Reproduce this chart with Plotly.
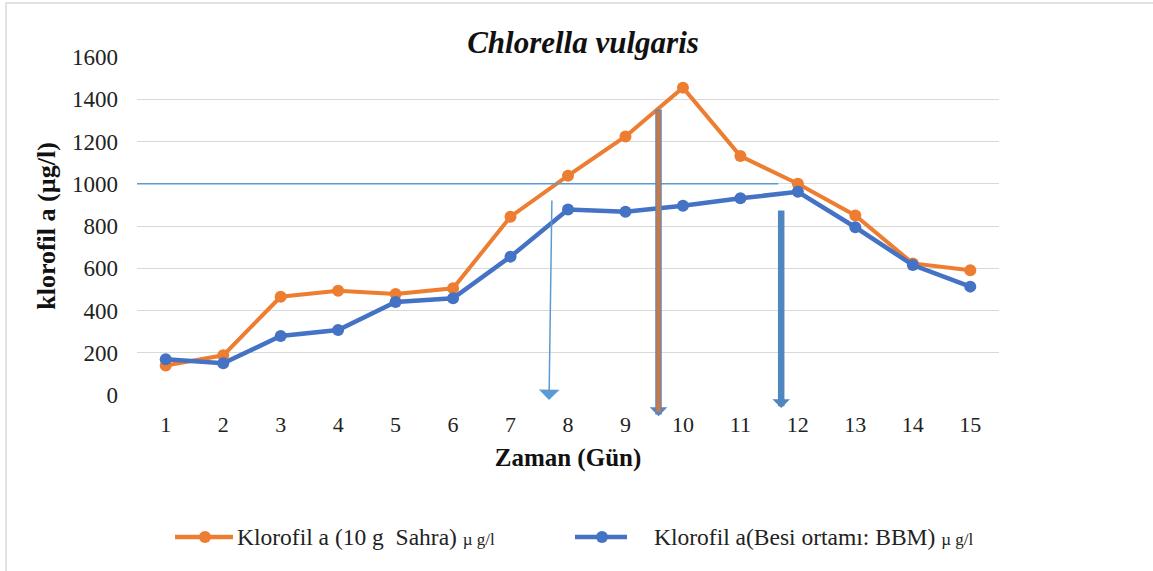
import plotly.graph_objects as go

# Kültür süresi (gün) ve klorofil a değerleri (µg/l)
gunler = list(range(1, 16))
sahra_10g = [140, 188, 465, 494, 478, 505, 844, 1038, 1224, 1455, 1131, 1000, 850, 623, 590]
bbm = [169, 150, 279, 308, 440, 458, 655, 878, 868, 896, 931, 962, 794, 615, 513]

y_ticks = [0, 200, 400, 600, 800, 1000, 1200, 1400, 1600]

ORANGE = "#ED7D31"
BLUE = "#4472C4"
LIGHT_BLUE = "#5B9BD5"
SERIF = "Liberation Serif, Times New Roman, serif"

fig = go.Figure()

fig.add_trace(go.Scatter(
    x=gunler, y=sahra_10g, mode="lines+markers",
    name="Klorofil a (10 g  Sahra) µg/l",
    line=dict(color=ORANGE, width=4),
    marker=dict(color=ORANGE, size=12),
    cliponaxis=False, showlegend=False,
))
fig.add_trace(go.Scatter(
    x=gunler, y=bbm, mode="lines+markers",
    name="Klorofil a(Besi ortamı: BBM) µg/l",
    line=dict(color=BLUE, width=4.5),
    marker=dict(color=BLUE, size=12),
    cliponaxis=False, showlegend=False,
))

# 1000 µg/l seviyesini gösteren yatay çizgi
fig.add_shape(type="line", xref="x", yref="y", x0=0.5, x1=11.66, y0=1000, y1=1000,
              line=dict(color=LIGHT_BLUE, width=1.5), layer="above")

# Dikey oklar
fig.add_annotation(x=7.67, y=-24, ax=7.72, ay=928, xref="x", yref="y", axref="x", ayref="y",
                   text="", showarrow=True, arrowhead=1, arrowsize=2.3, arrowwidth=1.5,
                   arrowcolor=LIGHT_BLUE, standoff=0)
fig.add_annotation(x=9.575, y=-100, ax=9.575, ay=1359, xref="x", yref="y", axref="x", ayref="y",
                   text="", showarrow=True, arrowhead=1, arrowsize=0.45, arrowwidth=6.5,
                   arrowcolor="#5A86BE", standoff=0)
fig.add_annotation(x=9.575, y=-80, ax=9.575, ay=1353, xref="x", yref="y", axref="x", ayref="y",
                   text="", showarrow=True, arrowhead=0, arrowwidth=4.5,
                   arrowcolor="#C27A4E", standoff=0)
fig.add_annotation(x=11.71, y=-62, ax=11.71, ay=880, xref="x", yref="y", axref="x", ayref="y",
                   text="", showarrow=True, arrowhead=1, arrowsize=0.45, arrowwidth=6.5,
                   arrowcolor="#4F86C0", standoff=0)

# Grafik çerçevesi
fig.add_shape(type="rect", xref="paper", yref="paper", x0=-0.152, x1=1.19, y0=-0.56, y1=1.16,
              line=dict(color="#D9D9D9", width=1.5), fillcolor="rgba(0,0,0,0)", layer="below")

# Açıklama (lejant)
legend_items = [
    (ORANGE, 175, 233, 205, 235,
     "Klorofil a (10 g\u00a0 Sahra) <span style='font-size:17px'>µ g/l</span>"),
    (BLUE, 575, 627, 602, 652,
     "Klorofil a(Besi ortamı: BBM) <span style='font-size:17px'>µ g/l</span>"),
]
W, L, R, T, B = 1153, 137, 154, 57, 176
pw, ph = W - L - R, 571 - T - B
def px_x(p):
    return (p - L) / pw
def px_y(p):
    return (571 - B - p) / ph
leg_y = 537
for color, x0, x1, xm, xt, label in legend_items:
    fig.add_shape(type="line", xref="paper", yref="paper", x0=px_x(x0), x1=px_x(x1),
                  y0=px_y(leg_y), y1=px_y(leg_y), line=dict(color=color, width=4.5))
    fig.add_shape(type="circle", xref="paper", yref="paper",
                  x0=px_x(xm - 6), x1=px_x(xm + 6), y0=px_y(leg_y + 6), y1=px_y(leg_y - 6),
                  fillcolor=color, line=dict(color=color, width=0))
    fig.add_annotation(xref="paper", yref="paper", x=px_x(xt), y=px_y(leg_y),
                       xanchor="left", yanchor="middle", showarrow=False, text=label,
                       font=dict(family=SERIF, size=23.5, color="#222222"))

fig.update_layout(
    width=W, height=571,
    margin=dict(l=L, r=R, t=T, b=B),
    paper_bgcolor="white", plot_bgcolor="white",
    title=dict(text="<b><i>Chlorella vulgaris</i></b>", x=(583 - L) / pw, xref="paper",
               xanchor="center", y=1 - 42 / 571, yanchor="middle",
               font=dict(family=SERIF, size=31, color="#111111")),
    font=dict(family=SERIF, color="#222222"),
    showlegend=False,
)
fig.update_xaxes(
    range=[0.5, 15.5], tickvals=gunler, ticktext=[str(g) for g in gunler],
    showgrid=False, zeroline=False, showline=False, ticks="",
    tickfont=dict(family=SERIF, size=22, color="#222222"), ticklabelstandoff=14,
    title=dict(text="<b>Zaman (Gün)</b>", font=dict(family=SERIF, size=25, color="#111111"),
               standoff=12),
)
fig.update_yaxes(
    range=[0, 1600], tickvals=y_ticks, showgrid=True, gridcolor="#D9D9D9", gridwidth=1.3,
    zeroline=False, showline=False, ticks="",
    tickfont=dict(family=SERIF, size=23, color="#222222"), ticklabelstandoff=18,
    title=dict(text="<b>klorofil a (µg/l)</b>", font=dict(family=SERIF, size=26, color="#111111"),
               standoff=8),
)

fig.write_html("out.html")
